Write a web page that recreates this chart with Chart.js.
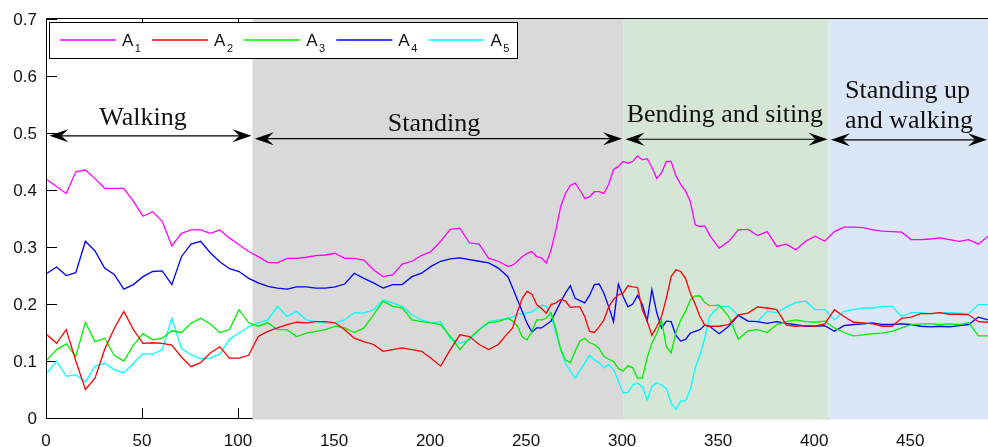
<!DOCTYPE html>
<html><head><meta charset="utf-8">
<script src="https://cdn.jsdelivr.net/npm/chart.js@4/dist/chart.umd.min.js"></script>
<style>html,body{margin:0;padding:0;background:#fff;overflow:hidden}#wrap{width:988px;height:447px;position:relative}canvas{display:block}</style>
</head><body><div id="wrap"><canvas id="c" width="988" height="447"></canvas></div>
<script>
// ---- data ----
const xValues = [0,5,10,15,20,25,30,35,40,45,50,55,60,65,70,75,80,85,90,95,100,105,110,115,120,125,130,135,140,145,150,155,160,165,170,175,180,185,190,195,200,205,210,215,220,225,230,235,240,
242.5,245,247.5,250,252.5,255,257.5,260,262.5,265,267.5,270,272.5,275,277.5,280,282.5,285,287.5,290,292.5,295,297.5,300,302.5,305,307.5,310,312.5,315,317.5,320,322.5,325,327.5,330,332.5,335,337.5,340,342.5,345,
350,355,360,365,370,375,380,385,390,395,400,405,410,415,420,425,430,435,440,445,450,455,460,465,470,475,480,485,490];

const A1 = [0.418,0.406,0.394,0.432,0.435,0.42,0.403,0.403,0.403,0.38,0.354,0.362,0.345,0.302,0.324,0.33,0.33,0.324,0.33,0.316,0.304,0.292,0.283,0.273,0.272,0.28,0.28,0.282,0.285,0.286,0.289,0.28,0.28,0.277,0.26,0.248,0.251,0.27,0.275,0.285,0.292,0.31,0.331,0.333,0.307,0.305,0.28,0.275,0.266,
0.268,0.275,0.283,0.289,0.292,0.283,0.281,0.272,0.295,0.33,0.371,0.394,0.408,0.412,0.4,0.385,0.388,0.397,0.397,0.394,0.41,0.436,0.441,0.45,0.447,0.45,0.46,0.453,0.455,0.44,0.42,0.43,0.45,0.45,0.425,0.41,0.398,0.38,0.339,0.336,0.337,0.321,
0.298,0.31,0.33,0.331,0.32,0.327,0.301,0.305,0.295,0.31,0.319,0.31,0.327,0.335,0.335,0.334,0.33,0.328,0.327,0.326,0.313,0.313,0.314,0.316,0.313,0.31,0.313,0.305,0.319];

const A2 = [0.146,0.131,0.155,0.1,0.05,0.07,0.12,0.157,0.187,0.155,0.131,0.132,0.131,0.128,0.107,0.09,0.097,0.114,0.125,0.105,0.105,0.11,0.143,0.152,0.158,0.164,0.168,0.167,0.169,0.169,0.167,0.155,0.14,0.134,0.129,0.117,0.12,0.123,0.12,0.117,0.105,0.091,0.12,0.146,0.143,0.129,0.12,0.129,0.149,
0.158,0.187,0.21,0.222,0.217,0.199,0.192,0.184,0.199,0.202,0.208,0.205,0.194,0.195,0.195,0.178,0.152,0.15,0.16,0.172,0.195,0.208,0.216,0.219,0.232,0.23,0.229,0.19,0.17,0.145,0.16,0.178,0.21,0.248,0.26,0.257,0.245,0.219,0.2,0.178,0.163,0.161,
0.161,0.164,0.181,0.184,0.195,0.193,0.19,0.163,0.161,0.162,0.161,0.165,0.19,0.178,0.168,0.167,0.165,0.161,0.161,0.175,0.177,0.183,0.183,0.185,0.182,0.182,0.181,0.169,0.168];

const A3 = [0.102,0.12,0.13,0.108,0.168,0.134,0.14,0.11,0.1,0.128,0.148,0.137,0.14,0.153,0.15,0.166,0.175,0.165,0.15,0.155,0.19,0.167,0.161,0.167,0.155,0.155,0.143,0.149,0.152,0.155,0.161,0.158,0.15,0.158,0.181,0.205,0.196,0.193,0.172,0.169,0.167,0.164,0.143,0.12,0.14,0.155,0.167,0.169,0.175,
0.17,0.161,0.142,0.137,0.152,0.172,0.172,0.175,0.185,0.155,0.12,0.102,0.097,0.117,0.135,0.14,0.132,0.129,0.122,0.108,0.103,0.099,0.087,0.082,0.092,0.088,0.07,0.07,0.105,0.132,0.148,0.172,0.125,0.114,0.15,0.172,0.187,0.207,0.214,0.214,0.203,0.197,
0.198,0.178,0.138,0.153,0.155,0.15,0.164,0.169,0.172,0.169,0.168,0.17,0.158,0.15,0.144,0.146,0.148,0.149,0.152,0.158,0.164,0.165,0.165,0.164,0.165,0.164,0.167,0.144,0.144];

const A4 = [0.254,0.265,0.25,0.255,0.31,0.293,0.263,0.252,0.226,0.234,0.248,0.257,0.258,0.234,0.283,0.305,0.31,0.29,0.274,0.262,0.257,0.245,0.237,0.231,0.228,0.226,0.23,0.23,0.228,0.228,0.23,0.235,0.254,0.245,0.237,0.228,0.234,0.234,0.248,0.254,0.266,0.275,0.279,0.281,0.278,0.275,0.272,0.263,0.248,
0.228,0.207,0.187,0.166,0.151,0.158,0.158,0.164,0.17,0.187,0.204,0.219,0.232,0.21,0.206,0.202,0.215,0.234,0.235,0.219,0.195,0.169,0.235,0.213,0.195,0.2,0.215,0.199,0.17,0.225,0.185,0.158,0.17,0.169,0.145,0.135,0.138,0.149,0.152,0.155,0.163,0.161,
0.148,0.161,0.18,0.17,0.169,0.166,0.169,0.166,0.164,0.161,0.161,0.162,0.152,0.162,0.164,0.165,0.167,0.164,0.164,0.165,0.164,0.161,0.16,0.161,0.16,0.162,0.164,0.177,0.172];

const A5 = [0.079,0.1,0.073,0.076,0.063,0.091,0.096,0.085,0.079,0.096,0.113,0.112,0.12,0.175,0.122,0.111,0.104,0.105,0.112,0.138,0.149,0.16,0.167,0.172,0.196,0.178,0.187,0.172,0.169,0.167,0.167,0.172,0.185,0.184,0.19,0.207,0.202,0.196,0.181,0.172,0.167,0.169,0.14,0.131,0.137,0.155,0.169,0.172,0.175,
0.177,0.184,0.182,0.184,0.186,0.193,0.198,0.196,0.18,0.149,0.12,0.096,0.082,0.07,0.083,0.096,0.11,0.102,0.097,0.088,0.094,0.085,0.065,0.044,0.045,0.058,0.061,0.055,0.032,0.055,0.062,0.058,0.052,0.026,0.015,0.03,0.03,0.05,0.088,0.11,0.14,0.178,
0.196,0.196,0.18,0.17,0.169,0.187,0.185,0.195,0.203,0.205,0.19,0.19,0.172,0.187,0.19,0.193,0.193,0.196,0.196,0.178,0.185,0.185,0.183,0.184,0.185,0.184,0.183,0.199,0.199];

const seriesBase = ['A','A','A','A','A'];
const seriesSub = ['1','2','3','4','5'];
const xTicks = [0,50,100,150,200,250,300,350,400,450];
const xTickLabels = ['0','50','100','150','200','250','300','350','400','450'];
const yTicks = [0,0.1,0.2,0.3,0.4,0.5,0.6,0.7];
const yTickLabels = ['0','0.1','0.2','0.3','0.4','0.5','0.6','0.7'];

const phaseNames = [['Walking'],['Standing'],['Bending and siting'],['Standing up','and walking']];
const phaseStart = [0,107,300,407];
const phaseEnd = [107,300,407,490];

// ---- styles ----
const lineColors = ['#ff00ff','#ff0000','#00ee00','#0000ff','#00ffff'];
const phaseFill = [null,'#d9d9d9','#d5e6d6','#dbe7f7'];
const arrowY = [0.495,0.490,0.489,0.488];
const phaseText = [
  {align:'center', x:50, ys:[0.514]},
  {align:'center', x:201.5, ys:[0.504]},
  {align:'center', x:353, ys:[0.520]},
  {align:'left', x:415.6, ys:[0.561,0.509]}
];

const SUB_TXT = '"Liberation Sans", Arial, Helvetica, sans-serif';
const SERIF = '"Liberation Serif", "Times New Roman", serif';

function drawHead(ctx, tipX, y, dir){
  const L = 19, W = 6.5, N = 12;
  ctx.beginPath();
  ctx.moveTo(tipX, y);
  ctx.lineTo(tipX + dir*L, y - W);
  ctx.lineTo(tipX + dir*N, y);
  ctx.lineTo(tipX + dir*L, y + W);
  ctx.closePath();
  ctx.fill();
}

const deco = {
  id:'deco',
  beforeDraw(chart){
    const ctx = chart.ctx;
    ctx.save();
    ctx.fillStyle = '#ffffff';
    ctx.fillRect(0,0,chart.width,chart.height);
    ctx.restore();
  },
  beforeDatasetsDraw(chart){
    const ctx = chart.ctx, a = chart.chartArea;
    const xs = chart.scales.x, ys = chart.scales.y;
    ctx.save();
    ctx.strokeStyle = '#000'; ctx.lineWidth = 1;
    ctx.beginPath();
    ctx.moveTo(a.left-0.5, a.top-0.5); ctx.lineTo(a.left-0.5, a.bottom+0.5);
    ctx.lineTo(a.right+2, a.bottom+0.5);
    ctx.moveTo(a.left-0.5, a.top-0.5); ctx.lineTo(a.right+2, a.top-0.5);
    ctx.stroke();
    ctx.beginPath();
    yTicks.forEach(v=>{ const p = Math.round(ys.getPixelForValue(v))+0.5; ctx.moveTo(a.left, p); ctx.lineTo(a.left+10, p); });
    xTicks.forEach(v=>{ const p = Math.round(xs.getPixelForValue(v))-0.5; ctx.moveTo(p, a.bottom); ctx.lineTo(p, a.bottom-10); ctx.moveTo(p, a.top); ctx.lineTo(p, a.top+10); });
    ctx.stroke();
    phaseStart.forEach((s,i)=>{
      if(!phaseFill[i]) return;
      const x1 = xs.getPixelForValue(s), x2 = Math.min(xs.getPixelForValue(phaseEnd[i]), chart.width);
      ctx.fillStyle = phaseFill[i];
      ctx.fillRect(x1, a.top, x2-x1, a.bottom - a.top + 1.5);
    });
    ctx.restore();
  },
  afterDatasetsDraw(chart){
    const ctx = chart.ctx;
    const xs = chart.scales.x, ys = chart.scales.y;
    ctx.save();
    ctx.fillStyle = '#111';
    ctx.font = '17px ' + SUB_TXT;
    ctx.textAlign = 'right'; ctx.textBaseline = 'middle';
    yTicks.forEach((v,i)=>{ ctx.fillText(yTickLabels[i], 37, ys.getPixelForValue(v)+1.5); });
    ctx.textAlign = 'center'; ctx.textBaseline = 'alphabetic';
    xTicks.forEach((v,i)=>{ ctx.fillText(xTickLabels[i], xs.getPixelForValue(v)-1, 446); });

    const lx = 49.5, ly = 22.5, lw = 468, lh = 36;
    ctx.fillStyle = '#fff'; ctx.fillRect(lx, ly, lw, lh);
    ctx.strokeStyle = '#000'; ctx.lineWidth = 1; ctx.strokeRect(lx, ly, lw, lh);
    chart.data.datasets.forEach((ds,i)=>{
      const x0 = 60 + i*92.1, y0 = 40;
      ctx.strokeStyle = ds.borderColor; ctx.lineWidth = 1.5;
      ctx.beginPath(); ctx.moveTo(x0, y0); ctx.lineTo(x0+56, y0); ctx.stroke();
      ctx.fillStyle = '#111'; ctx.textAlign = 'left'; ctx.textBaseline = 'alphabetic';
      ctx.font = '17px ' + SUB_TXT;
      ctx.fillText(seriesBase[i], x0+62, 46);
      const w = ctx.measureText(seriesBase[i]).width;
      ctx.font = '11px ' + SUB_TXT;
      ctx.fillText(seriesSub[i], x0+62+w+1.5, 52);
    });

    ctx.fillStyle = '#000'; ctx.strokeStyle = '#000'; ctx.lineWidth = 1.2;
    phaseStart.forEach((s,i)=>{
      const x1 = xs.getPixelForValue(s) + 2.3;
      const x2 = Math.min(xs.getPixelForValue(phaseEnd[i]), chart.width) - 1;
      const y = ys.getPixelForValue(arrowY[i]);
      ctx.beginPath(); ctx.moveTo(x1+10, y); ctx.lineTo(x2-10, y); ctx.stroke();
      drawHead(ctx, x1, y, 1);
      drawHead(ctx, x2, y, -1);
    });

    ctx.font = '26px ' + SERIF;
    ctx.fillStyle = '#111';
    ctx.textBaseline = 'alphabetic';
    phaseNames.forEach((lines,i)=>{
      const t = phaseText[i];
      ctx.textAlign = t.align;
      lines.forEach((s,j)=>{ ctx.fillText(s, xs.getPixelForValue(t.x), ys.getPixelForValue(t.ys[j])); });
    });
    ctx.restore();
  }
};

const seriesValues = [A1,A2,A3,A4,A5];
const datasets = seriesValues.map((vals,i)=>({
  label: seriesBase[i] + seriesSub[i],
  data: xValues.map((x,k)=>({x:x, y:vals[k]})),
  borderColor: lineColors[i],
  backgroundColor: lineColors[i],
  borderWidth: 1.3,
  pointRadius: 0,
  tension: 0,
  fill: false
}));

new Chart(document.getElementById('c'), {
  type: 'line',
  data: { datasets },
  options: {
    responsive: false,
    animation: false,
    devicePixelRatio: 1,
    layout: { padding: { left: 47, right: 0, top: 19, bottom: 29 } },
    scales: {
      x: { type: 'linear', min: 0, max: 490, display: false },
      y: { type: 'linear', min: 0, max: 0.7, display: false }
    },
    plugins: { legend: { display: false }, tooltip: { enabled: false } }
  },
  plugins: [deco]
});
</script>
</body></html>
